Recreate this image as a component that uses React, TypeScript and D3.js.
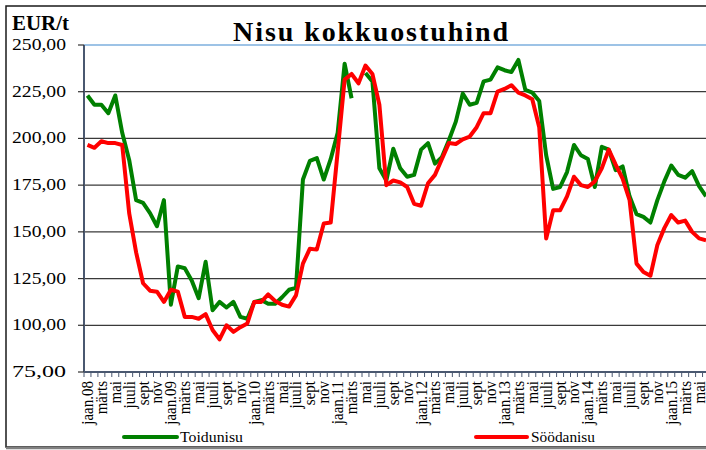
import React from "react";
import * as d3 from "d3";

const monthNames = ["jaan", "veebr", "märts", "apr", "mai", "juuni", "juuli", "aug", "sept", "okt", "nov", "dets"];
const years = ["08", "09", "10", "11", "12", "13", "14", "15"];
const categories: string[] = [];
years.forEach((y) => monthNames.forEach((m, i) => categories.push(i === 0 ? `${m}.${y}` : m)));
const months = categories.slice(0, 90);

const toidunisu: (number | null)[] = [
  223, 218, 218, 213.5, 223, 203, 188.5, 167, 165.5, 160, 153, 167,
  111, 131.5, 130.5, 124, 114.5, 134, 108, 112.5, 109.5, 112.5, 104.5, 103.5,
  112.5, 113.5, 111.5, 111.5, 115, 119, 120, 178, 188, 189.5, 178, 189,
  203, 240, 221.5, null, 235, 230.5, 184, 177.5, 194.5, 184, 179.5, 180.5,
  194, 197.5, 186.5, 190, 199, 209, 224, 218, 219, 230.5, 231.5, 238,
  236.5, 235.5, 242, 226, 224.5, 220, 191, 173, 174, 182, 196.5, 191,
  189, 174, 195.5, 194, 183, 185, 169, 159.5, 158, 155, 167, 177,
  185.5, 180.5, 179, 182.5, 174.5, 169,
];

const soodanisu: number[] = [
  196.5, 195, 198.5, 197.5, 197.5, 196.5, 160, 139, 122.5, 118.5, 118, 112.5,
  119, 118, 104.5, 104.5, 103.5, 106, 97.5, 92.5, 100, 96.5, 99, 101,
  112.5, 112.5, 116.5, 113, 111, 110, 116, 133, 141, 140.5, 154.5, 155,
  193, 231.5, 234.5, 229.5, 239, 234.5, 218, 175, 177.5, 176.5, 174, 165,
  164, 176, 180.5, 189, 197.5, 197, 199.5, 201, 206, 213.5, 213.5, 225,
  226.5, 228.5, 224.5, 223, 221, 206, 146.5, 161.5, 161.5, 169, 179.5, 175,
  174, 177, 184, 194, 186, 178.5, 167, 133, 128.5, 126.5, 143, 152,
  159, 155, 156, 150, 146.5, 145.5,
];

const yTicks = [75, 100, 125, 150, 175, 200, 225, 250];

const W = 706;
const H = 450;
const left = 84;
const band = 6.95;
const top = 45;
const bottom = 372;

export default function App() {
  const idx = months.map((_, i) => i);
  const x = d3.scaleBand<number>().domain(idx).range([left, left + band * months.length]).padding(0);
  const cx = (i: number) => (x(i) as number) + x.bandwidth() / 2;
  const y = d3.scaleLinear().domain([75, 250]).range([bottom, top]);
  const fmt = (v: number) => d3.format(".2f")(v).replace(".", ",");

  const line = d3
    .line<number | null>()
    .defined((d) => d !== null)
    .x((_, i) => cx(i))
    .y((d) => y(d as number));

  return (
    <div style={{ position: "absolute", left: 0, top: 0 }}>
      <svg width={W} height={H} style={{ display: "block", background: "#fff" }} fontFamily="'Liberation Serif', 'Times New Roman', serif">
        {/* frame */}
        <rect x={6} y={6} width={W + 20} height={441} fill="#fff" stroke="#1a1a1a" strokeWidth={1.5} />
        <line x1={6} x2={W} y1={448} y2={448} stroke="#808080" strokeWidth={2.5} />

        {/* title */}
        <text x={233} y={40.5} fontSize={28} fontWeight="bold" textLength={275} lengthAdjust="spacing" fill="#000">
          Nisu kokkuostuhind
        </text>
        <text x={12} y={30} fontSize={20} fontWeight="bold" textLength={57} lengthAdjust="spacingAndGlyphs" fill="#000">
          EUR/t
        </text>

        {/* gridlines */}
        {yTicks.slice(1).map((t) => (
          <line
            key={t}
            x1={left}
            x2={W}
            y1={y(t)}
            y2={y(t)}
            stroke={t === 250 ? "#9dc3e6" : "#3a3a3a"}
            strokeWidth={t === 250 ? 2 : 1.2}
          />
        ))}

        {/* y axis */}
        <line x1={left} x2={left} y1={top} y2={bottom} stroke="#4a5870" strokeWidth={2} />
        {yTicks.map((t) => (
          <g key={t}>
            <line x1={78} x2={left} y1={y(t)} y2={y(t)} stroke="#333" strokeWidth={1.2} />
            <text
              x={66}
              y={y(t) + 5}
              fontSize={16}
              textAnchor="end"
              textLength={54}
              lengthAdjust="spacingAndGlyphs"
              fill="#000"
            >
              {fmt(t)}
            </text>
          </g>
        ))}

        {/* x axis */}
        <line x1={left} x2={W} y1={bottom} y2={bottom} stroke="#4a5870" strokeWidth={2} />
        {d3.range(months.length + 1).map((k) => (
          <line
            key={k}
            x1={left + k * band}
            x2={left + k * band}
            y1={bottom}
            y2={bottom + 5}
            stroke="#4a5870"
            strokeWidth={1}
          />
        ))}
        {months.map((m, i) =>
          i % 2 === 0 ? (
            <text
              key={i}
              transform={`translate(${cx(i) + 5.5},${bottom + 9}) rotate(-90) scale(1,1.15)`}
              fontSize={15}
              textAnchor="end"
              fill="#000"
            >
              {m}
            </text>
          ) : null
        )}

        {/* series */}
        <path d={line(toidunisu) || ""} fill="none" stroke="#008000" strokeWidth={4} strokeLinejoin="round" />
        <path d={line(soodanisu) || ""} fill="none" stroke="#ff0000" strokeWidth={4} strokeLinejoin="round" />

        {/* legend */}
        <line x1={124} x2={177} y1={437} y2={437} stroke="#008000" strokeWidth={4} strokeLinecap="round" />
        <text x={180} y={442} fontSize={15.5} textLength={63} lengthAdjust="spacingAndGlyphs" fill="#000">
          Toidunisu
        </text>
        <line x1={476} x2={527} y1={437} y2={437} stroke="#ff0000" strokeWidth={4} strokeLinecap="round" />
        <text x={531} y={442} fontSize={15.5} textLength={64} lengthAdjust="spacingAndGlyphs" fill="#000">
          Söödanisu
        </text>
      </svg>
    </div>
  );
}
